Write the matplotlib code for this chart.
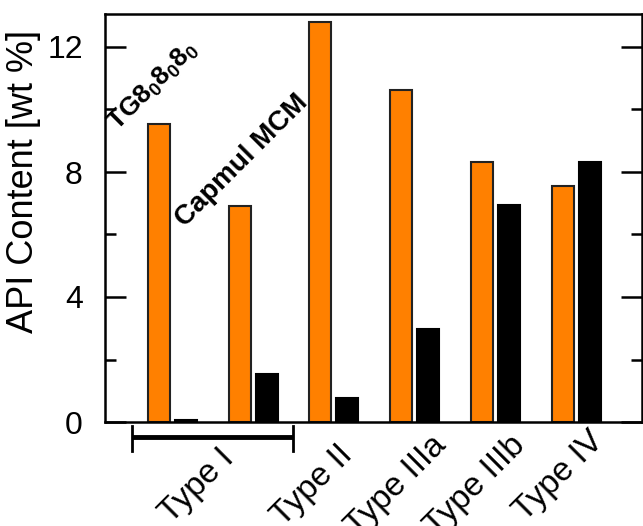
import matplotlib
matplotlib.use("Agg")
import matplotlib.pyplot as plt
from matplotlib.ticker import MultipleLocator

plt.rcParams["font.family"] = ["Liberation Sans", "DejaVu Sans"]
plt.rcParams["mathtext.fontset"] = "custom"
plt.rcParams["mathtext.rm"] = "Liberation Sans"
plt.rcParams["mathtext.bf"] = "Liberation Sans:bold"

# bars: first two are the Type I lipids, the rest are the formulation types
positions = [0, 1, 2, 3, 4, 5]
orange_vals = [9.54, 6.91, 12.81, 10.61, 8.32, 7.56]
black_vals = [0.06, 1.54, 0.76, 2.99, 6.95, 8.33]

type_labels = ["Type I", "Type II", "Type IIIa", "Type IIIb", "Type IV"]
type_centers = [0.5, 2, 3, 4, 5]

ORANGE = "#ff8000"
W = 0.272
OFF = 0.167

fig = plt.figure(figsize=(6.43, 5.26), dpi=100)
ax = fig.add_axes([105 / 643, 104 / 526, 537 / 643, 408 / 526])

ax.bar([p - OFF for p in positions], orange_vals, W, color=ORANGE,
       edgecolor="#222222", linewidth=1.5)
ax.bar([p + OFF for p in positions], black_vals, W, color="black",
       edgecolor="black", linewidth=1.5)

ax.set_xlim(-0.835, 5.817)
ax.set_ylim(0, 13.056)

ax.yaxis.set_major_locator(MultipleLocator(4))
ax.yaxis.set_minor_locator(MultipleLocator(2))
ax.tick_params(axis="y", which="both", direction="in", right=True, width=1.8,
               labelsize=23, pad=16)
ax.tick_params(axis="y", which="major", length=15)
ax.tick_params(axis="y", which="minor", length=8)
ax.set_xticks([])
for s in ax.spines.values():
    s.set_linewidth(1.8)

ax.set_ylabel("API Content [wt %]", fontsize=26)
ax.yaxis.set_label_coords(-0.119, 0.59)

# Type I bracket under the first two groups
tr = ax.get_xaxis_transform()
ax.plot([-0.5, 1.5], [-0.037, -0.037], color="black", lw=3.5,
        transform=tr, clip_on=False, solid_capstyle="butt")
for xb in (-0.5, 1.5):
    ax.plot([xb, xb], [-0.01, -0.07], color="black", lw=2,
            transform=tr, clip_on=False)

# rotated category labels, anchored at the end of the baseline
lab_dx = [0.274, 0.246, 0.41, 0.387, 0.353]
lab_y = [-0.093, -0.083, -0.061, -0.061, -0.049]
for lab, c, dx, yy in zip(type_labels, type_centers, lab_dx, lab_y):
    ax.text(c + dx, yy, lab, transform=tr, rotation=45, rotation_mode="anchor",
            ha="right", va="baseline", fontsize=24)

ax.text(-0.68, 9.3, r"$\mathbf{TG8_{0}8_{0}8_{0}}$", rotation=45,
        rotation_mode="anchor", ha="left", va="baseline", fontsize=19)
ax.text(0.155, 6.2, "Capmul MCM", rotation=45, rotation_mode="anchor",
        ha="left", va="baseline", fontsize=20, fontweight="bold")

fig.savefig("out.png", dpi=100)
